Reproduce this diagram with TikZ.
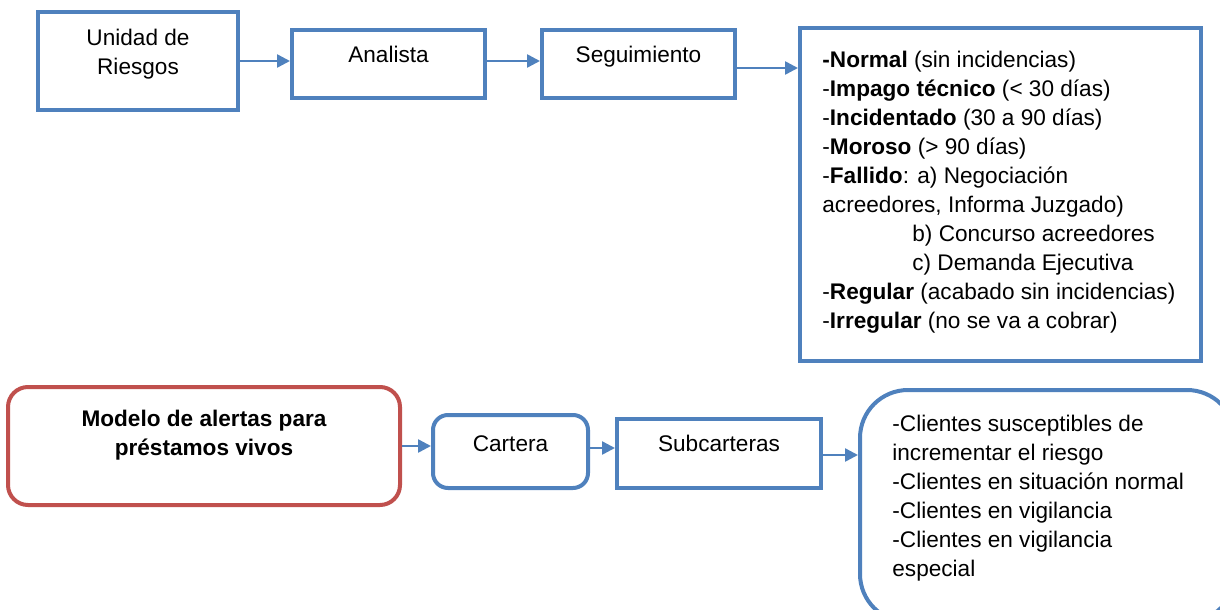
\documentclass[tikz,border=0pt]{standalone}
\usepackage{fontspec}
\setmainfont{Liberation Sans}
\usetikzlibrary{arrows.meta}
\definecolor{flowblue}{HTML}{4F81BD}
\definecolor{flowred}{HTML}{C0504D}
\tikzset{
  box/.style={draw=flowblue, line width=2pt, fill=white, inner sep=0pt},
  roundbox/.style={box, rounded corners=7.5pt},
  redbox/.style={draw=flowred, line width=2pt, fill=white, inner sep=0pt, rounded corners=10pt},
  lbl/.style={inner sep=0pt, font=\fontsize{11.3}{14.5}\selectfont},
  link/.style={draw=flowblue, line width=1.25pt, -{Triangle[length=6.5pt, width=6.5pt]}}
}
\begin{document}
\begin{tikzpicture}[x=0.5pt, y=-0.5pt]
\useasboundingbox (0,0) rectangle (1220,610);
\clip (0,0) rectangle (1220,610);

% upper chain
\node[box, minimum width=100pt, minimum height=49pt] (unidad) at (138,61) {};
\node[box, minimum width=96.5pt, minimum height=34pt] (analista) at (388.5,64) {};
\node[box, minimum width=96.5pt, minimum height=34pt] (seguim) at (638.5,64) {};
\node[box, minimum width=200.5pt, minimum height=166.5pt] (estados) at (1000.5,194.5) {};

\node[lbl, anchor=north, align=center] (tunidad) at (138,24.5) {\strut Unidad de\\Riesgos};
\node[lbl, anchor=north] (tanalista) at (388.5,41.5) {\strut Analista};
\node[lbl, anchor=north] (tseguim) at (638.5,41.5) {\strut Seguimiento};
\node[lbl, anchor=north west, align=left] (testados) at (822,46.5) {\strut \textbf{-Normal} (sin incidencias)\\
-\textbf{Impago técnico} (< 30 días)\\
-\textbf{Incidentado} (30 a 90 días)\\
-\textbf{Moroso} (> 90 días)\\
-\textbf{Fallido}: a) Negociación\\
acreedores, Informa Juzgado)\\
\hspace*{45pt}b) Concurso acreedores\\
\hspace*{45pt}c) Demanda Ejecutiva\\
-\textbf{Regular} (acabado sin incidencias)\\
-\textbf{Irregular} (no se va a cobrar)};

\draw[link] (unidad.east) -- (unidad.east -| analista.west);
\draw[link] ([yshift=1.5pt]analista.east) -- ([yshift=1.5pt]analista.east -| seguim.west);
\draw[link] ([yshift=-2pt]seguim.east) -- ([yshift=-2pt]seguim.east -| estados.west);

% lower chain
\node[redbox, minimum width=196pt, minimum height=59pt] (modelo) at (204,446) {};
\node[roundbox, minimum width=77.5pt, minimum height=36.5pt] (cartera) at (510.5,451.5) {};
\node[box, minimum width=102pt, minimum height=34.5pt] (subcart) at (719,453.5) {};
\node[box, rounded corners=24pt, minimum width=187.5pt, minimum height=116pt] (clientes) at (1047.5,506) {};

\node[lbl, anchor=north, align=center, font=\fontsize{11.3}{14.5}\selectfont\bfseries] (tmodelo) at (204,405.5) {\strut Modelo de alertas para\\préstamos vivos};
\node[lbl, anchor=north] (tcartera) at (510.5,431) {\strut Cartera};
\node[lbl, anchor=north] (tsubcart) at (719,431) {\strut Subcarteras};
\node[lbl, anchor=north west, align=left] (tclientes) at (892,411) {\strut -Clientes susceptibles de\\
incrementar el riesgo\\
-Clientes en situación normal\\
-Clientes en vigilancia\\
-Clientes en vigilancia\\
especial};

\draw[link] (modelo.east) -- (modelo.east -| cartera.west);
\draw[link] ([yshift=1.75pt]cartera.east) -- ([yshift=1.75pt]cartera.east -| subcart.west);
\draw[link] ([yshift=-0.75pt]subcart.east) -- ([yshift=-0.75pt]subcart.east -| clientes.west);
\end{tikzpicture}
\end{document}
